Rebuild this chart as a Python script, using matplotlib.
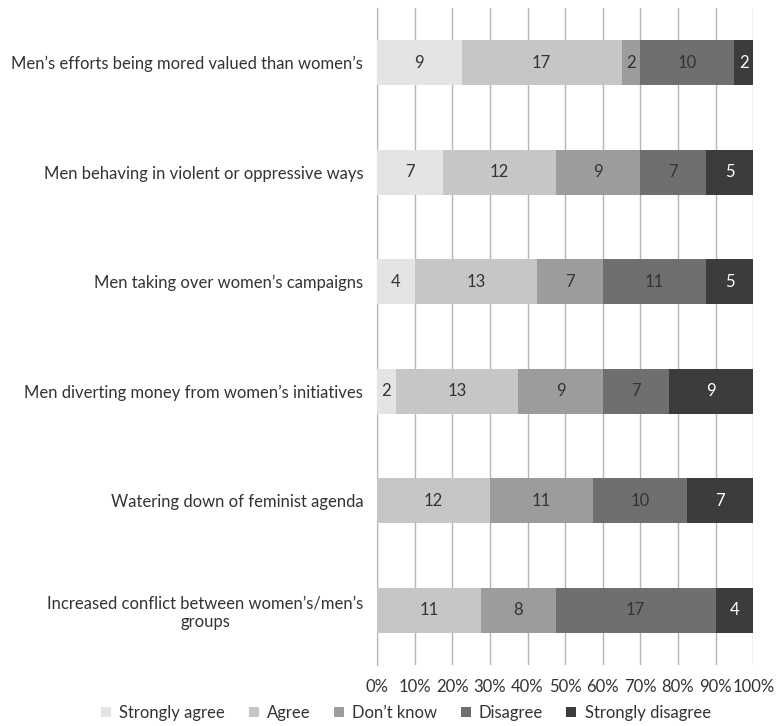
import matplotlib.pyplot as plt
import numpy as np

plt.rcParams['font.family'] = ['Lato', 'DejaVu Sans']

categories = [
    "Men\u2019s efforts being mored valued than women\u2019s",
    "Men behaving in violent or oppressive ways",
    "Men taking over women\u2019s campaigns",
    "Men diverting money from women\u2019s initiatives",
    "Watering down of feminist agenda",
    "Increased conflict between women\u2019s/men\u2019s\ngroups",
]
series = ["Strongly agree", "Agree", "Don\u2019t know", "Disagree", "Strongly disagree"]
strongly_agree = [9, 7, 4, 2, 0, 0]
agree = [17, 12, 13, 13, 12, 11]
dont_know = [2, 9, 7, 9, 11, 8]
disagree = [10, 7, 11, 7, 10, 17]
strongly_disagree = [2, 5, 5, 9, 7, 4]

colors = ['#e4e4e3', '#c6c6c5', '#9c9c9b', '#6f6f6d', '#3c3c3b']
text_colors = ['#333333', '#333333', '#333333', '#333333', '#ffffff']

data = np.array([strongly_agree, agree, dont_know, disagree, strongly_disagree], dtype=float)
totals = data.sum(axis=0)
pct = data / totals * 100

fig = plt.figure(figsize=(7.79, 7.26), dpi=100)
ax = fig.add_axes([0.484, 0.084, 0.483, 0.905])

y = np.arange(len(categories))
left = np.zeros(len(categories))
for i, name in enumerate(series):
    ax.barh(y, pct[i], left=left, height=0.41, color=colors[i], label=name, zorder=3)
    for j in range(len(categories)):
        if data[i, j] > 0:
            ax.text(left[j] + pct[i, j] / 2, y[j], f"{int(data[i, j])}",
                    ha='center', va='center', fontsize=12, color=text_colors[i], zorder=4)
    left += pct[i]

ax.set_xlim(0, 100)
ax.set_ylim(len(categories) - 0.5, -0.5)
ax.set_xticks(np.arange(0, 101, 10))
ax.set_xticklabels([f"{v}%" for v in range(0, 101, 10)], fontsize=12, color='#333333')
ax.set_yticks(y)
ax.set_yticklabels(categories, fontsize=12, color='#333333', multialignment='center')
ax.tick_params(axis='both', length=0)
ax.tick_params(axis='x', pad=10)
ax.tick_params(axis='y', pad=10)
ax.grid(axis='x', color='#b5b5b5', linewidth=1, zorder=0)
for s in ['top', 'right', 'bottom']:
    ax.spines[s].set_visible(False)
ax.spines['left'].set_color('#b5b5b5')

ax.legend(loc='upper center', bbox_to_anchor=(0.077, -0.038), ncol=5, frameon=False,
          fontsize=12, handlelength=0.6, handleheight=0.6, columnspacing=1.4,
          handletextpad=0.5, labelcolor='#333333')

fig.savefig('out.png', dpi=100)
